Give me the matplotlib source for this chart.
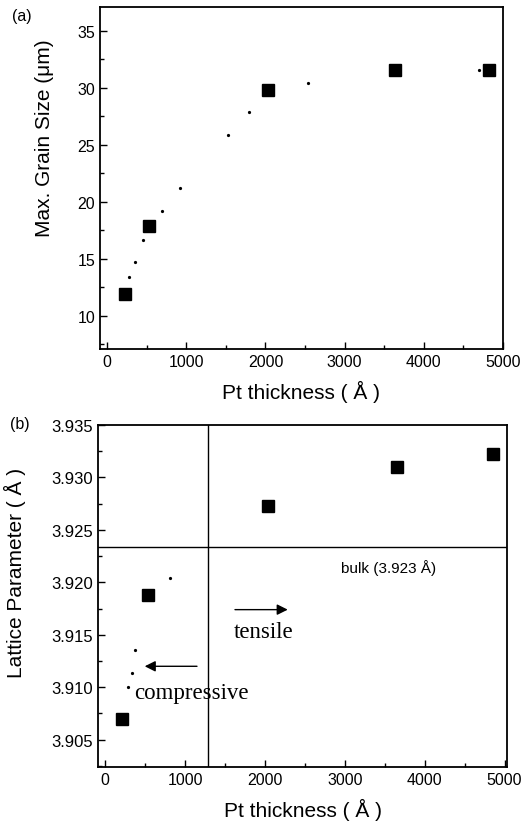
import matplotlib
matplotlib.use("Agg")
import matplotlib.pyplot as plt
from matplotlib.ticker import MultipleLocator

# ---- data: panel (a) ----
thick_a = [220, 528, 2033, 3640, 4826]
grain = [11.9, 17.9, 29.8, 31.6, 31.55]
guide_a_x = [281, 352, 457, 687, 926, 1526, 1790, 2532, 4692]
guide_a_y = [13.4, 14.7, 16.7, 19.2, 21.2, 25.85, 27.9, 30.4, 31.6]

# ---- data: panel (b) ----
thick_b = [209, 531, 2041, 3651, 4856]
lattice = [3.9070, 3.9188, 3.9273, 3.9310, 3.9322]
guide_b_x = [280, 335, 376, 815]
guide_b_y = [3.9100, 3.9114, 3.9136, 3.9204]
bulk_value = 3.9234
bulk_label = "bulk (3.923 Å)"
boundary_x = 1285

xticks = [0, 1000, 2000, 3000, 4000, 5000]
yticks_a = [10, 15, 20, 25, 30, 35]
yticks_b = [3.905, 3.910, 3.915, 3.920, 3.925, 3.930, 3.935]

plt.rcParams['font.family'] = ['Liberation Sans', 'DejaVu Sans']

fig = plt.figure(figsize=(5.29, 8.29), dpi=100)
W, H = 529, 829

def axes_px(l, t, r, b):
    return fig.add_axes([l / W, 1 - b / H, (r - l) / W, (b - t) / H])

def style(ax):
    for s in ax.spines.values():
        s.set_linewidth(1.3)
        s.set_color('black')
    ax.tick_params(which='both', direction='in', top=False, right=False,
                   labelsize=11.5, width=1.0, color='black')
    ax.tick_params(which='major', length=5)
    ax.tick_params(which='minor', length=3)
    ax.set_xticks(xticks)
    ax.xaxis.set_minor_locator(MultipleLocator(500))

# Panel (a)
ax1 = axes_px(100, 8, 503, 350)
style(ax1)
ax1.plot(guide_a_x, guide_a_y, linestyle='none', marker='o', markersize=1.3,
         color='black')
ax1.plot(thick_a, grain, linestyle='none', marker='s', markersize=9,
         color='black')
ax1.set_xlim(-90, 5000)
ax1.set_ylim(7.1, 37.1)
ax1.set_yticks(yticks_a)
ax1.yaxis.set_minor_locator(MultipleLocator(2.5))
ax1.set_xlabel("Pt thickness ( Å )", fontsize=15, labelpad=8)
ax1.set_ylabel("Max. Grain Size (μm)", fontsize=15)
ax1.yaxis.set_label_coords(-0.113, 0.62)
fig.text(12 / W, 1 - 16 / H, "(a)", fontsize=11.5, va='center', ha='left')

# Panel (b)
ax2 = axes_px(98, 426, 507, 768)
style(ax2)
ax2.tick_params(axis='y', labelsize=12)
ax2.plot(guide_b_x, guide_b_y, linestyle='none', marker='o', markersize=1.3,
         color='black')
ax2.plot(thick_b, lattice, linestyle='none', marker='s', markersize=9,
         color='black')
ax2.axhline(bulk_value, color='black', linewidth=1.0)
ax2.axvline(boundary_x, color='black', linewidth=1.0)
ax2.set_xlim(-90, 5030)
ax2.set_ylim(3.9024, 3.9350)
ax2.set_yticks(yticks_b)
ax2.set_yticklabels([f"{v:.3f}" for v in yticks_b])
ax2.yaxis.set_minor_locator(MultipleLocator(0.0025))
ax2.set_xlabel("Pt thickness ( Å )", fontsize=15, labelpad=8)
ax2.set_ylabel("Lattice Parameter ( Å )", fontsize=15)
ax2.yaxis.set_label_coords(-0.175, 0.57)
fig.text(10 / W, 1 - 425 / H, "(b)", fontsize=11.5, va='center', ha='left')

ax2.text(2948, 3.9215, bulk_label, fontsize=11, va='center', ha='left')
ax2.annotate("", xy=(2320, 3.9174), xytext=(1590, 3.9174),
             arrowprops=dict(arrowstyle='-|>', color='black', lw=1.0,
                             mutation_scale=16))
ax2.text(1986, 3.9153, "tensile", fontsize=16.5, family='Liberation Serif',
         va='center', ha='center')
ax2.annotate("", xy=(460, 3.9120), xytext=(1184, 3.9120),
             arrowprops=dict(arrowstyle='-|>', color='black', lw=1.0,
                             mutation_scale=16))
ax2.text(364, 3.9095, "compressive", fontsize=16.5, family='Liberation Serif',
         va='center', ha='left')

fig.savefig("out.png", dpi=100)
